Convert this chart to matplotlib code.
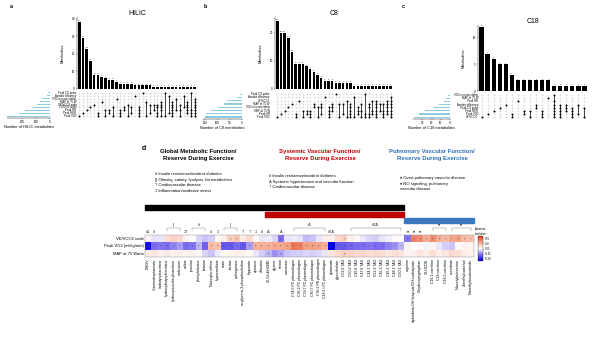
import numpy as np
import matplotlib
matplotlib.use("Agg")
import matplotlib.pyplot as plt
from matplotlib.colors import LinearSegmentedColormap
from matplotlib.transforms import blended_transform_factory
from matplotlib.patches import Rectangle

plt.rcParams["font.family"] = ["Liberation Sans", "DejaVu Sans"]

W, H = 600, 343

# ---------------- panels a-c (upset plots) ----------------
hilic_sets = ["Peak CO pulse", "Aerobic efficiency", "VO2 recovery delay", "MAP at 75 W",
              "VE/VCO2 nadir", "CO/VO2 slope", "Peak HR", "Peak RER", "Peak VO2"]
hilic_set_sizes = [12, 24, 48, 71, 95, 130, 180, 225, 310]
hilic_counts = [38, 29, 23, 16, 8, 8, 7, 6, 5, 5, 4, 3, 3, 3, 3, 2, 2, 2, 2, 2,
                1, 1, 1, 1, 1, 1, 1, 1, 1, 1, 1, 1]
hilic_members = [(8,), (7,), (6,), (5,), (4,), (8, 7), (3,), (8, 6), (7, 6), (8, 5), (2,),
                 (8, 7, 6), (6, 5), (8, 4), (7, 5), (1,), (8, 7, 6, 5), (0,), (8, 3), (7, 4),
                 (6, 4), (8, 7, 5, 4), (8, 6, 5, 4, 3), (0, 8), (1, 7), (8, 7, 6, 5, 4, 3),
                 (2, 6), (8, 6, 4), (1, 5), (7, 6, 5, 4, 3), (0, 8, 7, 6), (8, 7, 6, 5, 4, 3, 2)]

c8_sets = ["Peak CO pulse", "Aerobic efficiency", "VE/VCO2", "MAP at 75 W",
           "VO2 recovery delay", "SBP at 75 W", "Peak HR", "Peak VO2"]
c8_set_sizes = [7, 20, 60, 73, 100, 127, 147, 153]
c8_counts = [24, 20, 20, 18, 13, 9, 9, 9, 8, 7, 6, 5, 4, 3, 3, 3, 2, 2, 2, 2, 2,
             1, 1, 1, 1, 1, 1, 1, 1, 1, 1, 1]
c8_members = [(7,), (6,), (5,), (4,), (3,), (7, 6), (2,), (7, 5), (6, 5), (7, 6, 5), (4, 3),
              (7, 4), (6, 4, 3), (1,), (7, 6, 5, 4), (5, 4, 3), (0,), (7, 3), (6, 3), (2, 7),
              (7, 6, 5, 4, 3), (1, 7), (6, 5, 4), (7, 5, 3), (0, 7, 6), (7, 6, 4, 3), (2, 6, 5),
              (7, 6, 5, 4, 3, 2), (5, 3), (7, 6, 5, 3), (6, 5, 4, 3, 2), (7, 6, 5, 4, 3, 2, 1)]

c18_sets = ["VO2 recovery delay", "MAP at 75 W", "Peak HR", "Aerobic efficiency",
            "Peak CO pulse", "Peak RER", "Peak VO2", "VE/VCO2"]
c18_set_sizes = [2, 4, 7, 12, 18, 27, 34, 39]
c18_counts = [12, 7, 6, 5, 5, 3, 2, 2, 2, 2, 2, 2, 1, 1, 1, 1, 1, 1]
c18_members = [(7,), (6,), (5,), (4,), (3,), (7, 6), (2,), (6, 5), (7, 5), (4, 3), (7, 6, 5),
               (1,), (0, 7, 6, 5, 4, 3, 2), (7, 6, 5, 4, 3), (5, 4, 3), (7, 6, 5, 4), (6, 3), (7, 4)]

# ---------------- panel d (heatmap) ----------------
metabolites = ["DMGV", "2-aminoheptanoate", "isobutyrylcarnitine", "hydroxybutyrylcarnitine",
               "hydroxyisovalerylcarnitine", "isoleucine", "valine", "tyrosine", "phenylalanine",
               "betaine", "N-acetylornithine", "hypoxanthine", "urate", "lactate", "sphingosine",
               "sn-glycero-3-phosphocholine", "hippurate", "cytosine", "allantoin",
               "12,13-diHOME", "glycine", "serine", "sarcosine", "C34:3 PC plasmalogen",
               "C36:2 PC plasmalogen", "C38:7 PC plasmalogen", "C40:7 PC plasmalogen",
               "C36:2 PE plasmalogen", "C18:1 LPC plasmalogen", "glutamate", "glycocholate",
               "C52:6 TAG", "C50:2 TAG", "C46:6 TAG", "C47:6 TAG", "C44:1 TAG", "C52:2 TAG",
               "C46:3 TAG", "C46:1 TAG", "C48:1 TAG", "C50:1 TAG",
               "arginine", "alpha/beta-OH-butyrate/OH-isobutyrate", "5-hydroxytryptophan",
               "13-HODE", "C16:1 carnitine", "C18 carnitine", "C18:2 carnitine", "ascorbate",
               "N-acetylputrescine", "4-methylcatechol", "N-methylnicotinamide"]
row_names = ["VE/VCO2 nadir", "Peak VO2 (ml/kg/min)", "MAP at 75 Watts"]
ve_vco2 = [0.04, -0.06, -0.05, 0.10, 0.14, 0.12, 0.03, 0.00, -0.08, -0.12, -0.10, 0.02, 0.05,
           0.15, 0.18, 0.06, 0.12, 0.02, -0.05, -0.04, -0.08, -0.30, -0.05, -0.04, -0.06,
           -0.14, -0.12, -0.05, 0.06, 0.05, 0.12, 0.15, 0.05, 0.02, -0.05, -0.08, -0.10,
           -0.05, -0.03, 0.02, 0.00, -0.28, 0.38, 0.36, 0.25, 0.35, 0.25, 0.22, 0.28, 0.30,
           0.22, 0.20]
peak_vo2 = [-0.55, -0.30, -0.28, -0.30, -0.25, -0.20, -0.30, -0.28, -0.15, -0.32, 0.22, 0.20,
            -0.35, -0.35, -0.30, -0.35, -0.20, 0.25, 0.25, 0.25, 0.28, 0.28, 0.30, 0.42, 0.40,
            0.30, 0.30, 0.28, 0.25, -0.60, -0.35, -0.35, -0.32, -0.30, -0.30, -0.28, -0.30,
            -0.30, -0.25, -0.22, -0.15, 0.03, 0.00, 0.02, -0.02, 0.03, -0.05, -0.10, -0.12,
            0.02, 0.04, 0.03]
map_75w = [0.06, 0.08, 0.05, 0.07, 0.04, 0.06, 0.03, 0.05, 0.02, -0.08, -0.12, -0.04, 0.02,
           0.03, 0.05, 0.04, 0.02, -0.05, -0.10, -0.15, -0.22, -0.18, -0.12, -0.10, -0.10,
           -0.08, -0.10, -0.08, -0.05, 0.08, 0.12, 0.15, 0.14, 0.12, 0.13, 0.10, 0.12, 0.10,
           0.08, 0.10, 0.08, 0.03, 0.05, 0.08, 0.06, 0.10, 0.05, 0.08, 0.12, 0.10, 0.06, 0.04]
# (first column, last column, symbol) annotations above the heatmap
marks = [(0, 0, "#‡"), (1, 1, "#"), (3, 5, "||"), (6, 6, "‡†"), (7, 9, "#"), (10, 10, "#"),
         (11, 11, "‡"), (12, 14, "||"), (15, 15, "†"), (16, 16, "†"), (17, 17, "‡"),
         (18, 18, "#"), (19, 19, "Δ"), (21, 21, "Δ"), (23, 28, "Δ"), (29, 29, "#†Δ"),
         (32, 40, "#†Δ"), (41, 41, "♦"), (42, 42, "♦"), (43, 43, "♦"), (45, 47, "♦"),
         (48, 51, "♦")]
global_cols = (0, 40)
systemic_cols = (19, 40)
pulmonary_cols = (41, 51)


def px_box(x0, y0, x1, y1):
    return [x0 / W, 1 - y1 / H, (x1 - x0) / W, (y1 - y0) / H]


fig = plt.figure(figsize=(6, 3.43), dpi=100)


def upset(bars_box, mat_box, size_box, sets, sizes, counts, members, title, xlabel,
          yticks, ytop, size_lim, size_ticks, label_gap):
    n = len(counts)
    nset = len(sets)
    xs = np.arange(n)

    axb = fig.add_axes(px_box(*bars_box))
    axb.bar(xs, counts, width=0.72, color="black")
    for xi, c in zip(xs, counts):
        axb.text(xi, c + ytop * 0.012, str(c), ha="center", va="bottom", fontsize=1.6)
    axb.set_xlim(-0.6, n - 0.4)
    axb.set_ylim(0, ytop)
    axb.set_yticks(yticks)
    axb.tick_params(axis="y", labelsize=2.2, length=1, width=0.3, pad=0.5)
    axb.set_xticks([])
    for s in ["top", "right", "bottom"]:
        axb.spines[s].set_visible(False)
    axb.spines["left"].set_linewidth(0.3)
    axb.set_ylabel("Metabolites", fontsize=2.8, labelpad=5)
    axb.set_title(title, fontsize=5, pad=0)

    axm = fig.add_axes(px_box(*mat_box))
    for xi, mem in enumerate(members):
        ys = [nset - 1 - m for m in mem]
        axm.scatter([xi] * nset, range(nset), s=1.6, color="#d8d8d8", lw=0)
        axm.scatter([xi] * len(ys), ys, s=2.0, color="black", lw=0, zorder=3)
        if len(ys) > 1:
            axm.plot([xi, xi], [min(ys), max(ys)], color="black", lw=0.5, zorder=2)
    axm.set_xlim(-0.6, n - 0.4)
    axm.set_ylim(-0.6, nset + 0.3)
    axm.axis("off")
    for i, name in enumerate(sets):
        axm.text(-label_gap, nset - 1 - i, name, ha="right", va="center", fontsize=2.0)

    axs = fig.add_axes(px_box(*size_box))
    axs.barh([nset - 1 - i for i in range(nset)], sizes, height=0.35, color="#8ccbe0")
    axs.set_xlim(size_lim, 0)
    axs.set_ylim(-0.6, nset + 0.3)
    axs.set_xticks(size_ticks)
    axs.set_yticks([])
    axs.tick_params(axis="x", labelsize=2.2, length=1, width=0.3, pad=0.5)
    for s in ["top", "right", "left"]:
        axs.spines[s].set_visible(False)
    axs.spines["bottom"].set_linewidth(0.3)
    axs.set_xlabel(xlabel, fontsize=2.8, labelpad=1)


upset((77, 17, 197, 89), (77, 89, 197, 118), (7, 89, 50, 118), hilic_sets, hilic_set_sizes,
      hilic_counts, hilic_members, "HILIC", "Number of HILIC metabolites",
      [0, 10, 20, 30, 40], 41, 310, [200, 100, 0], 0.8)
upset((275, 17, 393, 89), (275, 90, 393, 119), (203, 90, 242, 119), c8_sets, c8_set_sizes,
      c8_counts, c8_members, "C8", "Number of C8 metabolites",
      [0, 10, 20], 25.5, 160, [150, 100, 50, 0], 2.0)
upset((478, 25, 588, 91), (478, 91, 588, 119), (413, 91, 450, 119), c18_sets, c18_set_sizes,
      c18_counts, c18_members, "C18", "Number of C18 metabolites",
      [0, 5, 10], 12.4, 40, [30, 20, 10, 0], 0.6)

for lab, x in [("a", 10), ("b", 204), ("c", 402)]:
    fig.text(x / W, 1 - 7 / H, lab, fontsize=4, weight="bold", va="center")

# ---------------- panel d ----------------
fig.text(142 / W, 1 - 148 / H, "d", fontsize=5, weight="bold", va="center")

fig.text(198 / W, 1 - 149 / H, "Global Metabolic Function/\nReserve During Exercise",
         ha="center", va="top", fontsize=4.3, weight="bold", linespacing=1.4)
fig.text(320 / W, 1 - 149 / H, "Systemic Vascular Function/\nReserve During Exercise",
         ha="center", va="top", fontsize=4.3, weight="bold", linespacing=1.4, color="#c00000")
fig.text(432 / W, 1 - 149 / H, "Pulmonary Vascular Function/\nReserve During Exercise",
         ha="center", va="top", fontsize=4.3, weight="bold", linespacing=1.4, color="#2f6fb5")

fig.text(155 / W, 1 - 172 / H,
         "# Insulin resistance/incident diabetes\n|| Obesity, satiety, lipolysis, fat metabolism\n"
         "† Cardiovascular disease\n‡ Inflammation/oxidative stress",
         ha="left", va="top", fontsize=3, linespacing=1.5)
fig.text(269 / W, 1 - 174 / H,
         "# Insulin resistance/incident diabetes\nΔ Systemic hypertension and vascular function\n"
         "† Cardiovascular disease",
         ha="left", va="top", fontsize=3, linespacing=1.5)
fig.text(400 / W, 1 - 176 / H,
         "♦ Overt pulmonary vascular disease\n♦ NO signaling, pulmonary\nvascular disease",
         ha="left", va="top", fontsize=3, linespacing=1.5)

cmap = LinearSegmentedColormap.from_list(
    "corr", ["#0000e6", "#7b6cf0", "#ffffff", "#f5a285", "#dd3a1c"])
data = np.array([ve_vco2, peak_vo2, map_75w])

axh = fig.add_axes(px_box(145, 235, 474, 257))
im = axh.imshow(data, cmap=cmap, vmin=-0.6, vmax=0.6, aspect="auto", interpolation="nearest")
for r in range(data.shape[0]):
    for c in range(data.shape[1]):
        if abs(data[r, c]) >= 0.15:
            axh.text(c, r + 0.15, "*", ha="center", va="center", fontsize=2.6, color="#333333")
axh.set_xticks(range(len(metabolites)))
axh.set_xticklabels(metabolites, rotation=90, fontsize=2.6)
axh.set_yticks(range(len(row_names)))
axh.set_yticklabels(row_names, fontsize=3)
axh.tick_params(length=0, pad=1)
for s in axh.spines.values():
    s.set_linewidth(0.3)
    s.set_color("#888888")

trans = blended_transform_factory(axh.transData, axh.transAxes)
for c0, c1, sym in marks:
    if c1 > c0:
        axh.plot([c0, c0, c1, c1], [1.18, 1.32, 1.32, 1.18], color="#777777", lw=0.3,
                 transform=trans, clip_on=False)
        axh.text((c0 + c1) / 2, 1.45, sym, ha="center", va="center", fontsize=2.8,
                 transform=trans)
    else:
        axh.text(c0, 1.14, sym, ha="center", va="center", fontsize=2.8, transform=trans)

for (c0, c1), color, y0, y1 in [(global_cols, "black", 2.14, 2.36),
                                (systemic_cols, "#c00000", 1.82, 2.05),
                                (pulmonary_cols, "#3a78c0", 1.55, 1.77)]:
    axh.add_patch(Rectangle((c0 - 0.5, y0), c1 - c0 + 1, y1 - y0, color=color,
                            transform=trans, clip_on=False))

cax = fig.add_axes(px_box(478, 236, 483, 261))
cb = fig.colorbar(im, cax=cax, ticks=[-0.5, -0.25, 0, 0.25, 0.5])
cb.ax.tick_params(labelsize=1.8, length=0.8, width=0.2, pad=0.5)
cb.outline.set_linewidth(0.2)
cax.set_title("Spearman\ncorrelation", fontsize=1.8, pad=1)

fig.savefig("out.png", dpi=100)
